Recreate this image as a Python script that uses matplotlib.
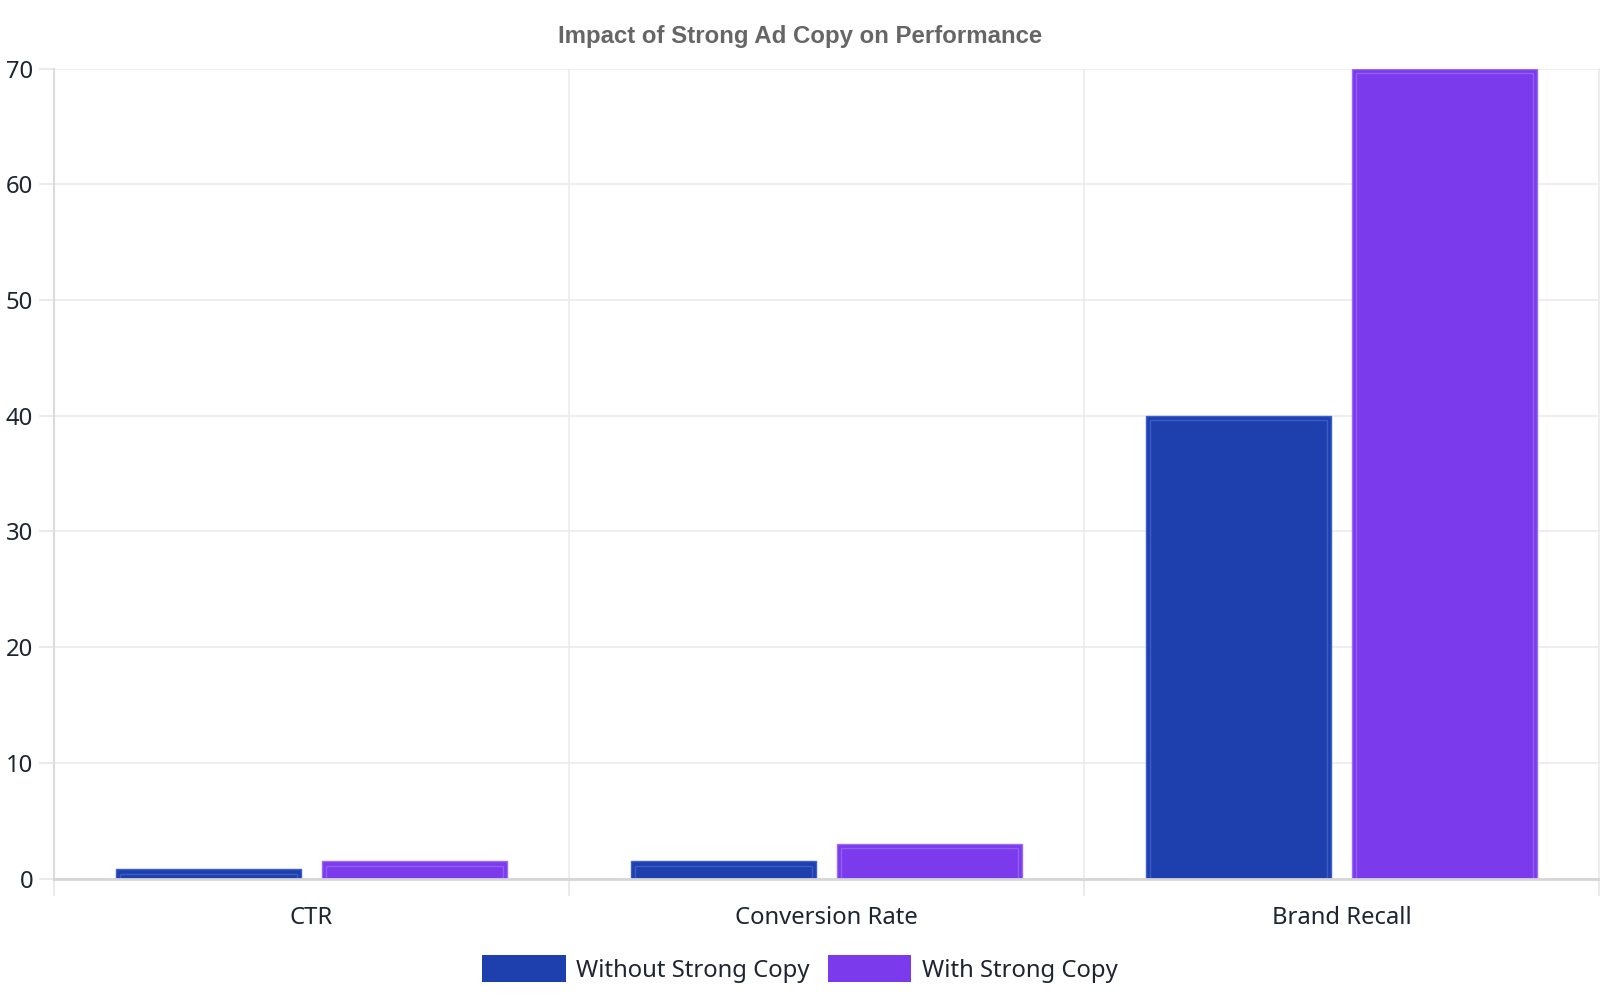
import matplotlib
matplotlib.use("Agg")
import matplotlib.pyplot as plt
from matplotlib.patches import Rectangle, Patch
import numpy as np

categories = ["CTR", "Conversion Rate", "Brand Recall"]
without_copy = [0.8, 1.5, 40]
with_copy = [1.5, 3.0, 70]
series_names = ["Without Strong Copy", "With Strong Copy"]
y_ticks = [0, 10, 20, 30, 40, 50, 60, 70]
title = "Impact of Strong Ad Copy on Performance"

fill_colors = ["#1e40af", "#7c3aed"]
edge_colors = ["#3b5fd0", "#9a6cf5"]
inner_colors = ["#3d5cbf", "#9060f2"]

fig = plt.figure(figsize=(16, 10), dpi=100)
ax = fig.add_axes([54 / 1600, 1 - 878.7 / 1000, 1545 / 1600, 810.2 / 1000])

x = np.arange(len(categories)) + 0.5
width = 0.36
offset = 0.2
xpp = 3 / 1545.0   # data per pixel x
ypp = 70 / 810.2   # data per pixel y

for i, vals in enumerate([without_copy, with_copy]):
    pos = x + (-offset if i == 0 else offset)
    ax.bar(pos, vals, width=width, color=fill_colors[i], edgecolor=edge_colors[i],
           linewidth=1.0, zorder=3)
    for p, v in zip(pos, vals):
        inset_x = 4.5 * xpp
        inset_y = 4.5 * ypp
        h = v - inset_y
        if h > 0:
            ax.add_patch(Rectangle((p - width / 2 + inset_x, 0), width - 2 * inset_x, h,
                                   fill=False, edgecolor=inner_colors[i], linewidth=1.0,
                                   zorder=4))

ax.set_xlim(0, 3)
ax.set_ylim(0, 70)

tick_fs = 17.2
ax.set_xticks([0, 1, 2, 3])
ax.set_xticklabels([])
ax.set_xticks(x, minor=True)
ax.set_xticklabels(categories, minor=True, fontsize=tick_fs, color="#1f2433",
                   fontfamily="Noto Sans")
ax.tick_params(axis="x", which="major", length=12, color="#e6e6e6", width=1.2)
ax.tick_params(axis="x", which="minor", length=0, pad=19.5)

ax.set_yticks(y_ticks)
ax.set_yticklabels([str(t) for t in y_ticks], fontsize=tick_fs, color="#1f2433",
                   fontfamily="Noto Sans")
ax.tick_params(axis="y", length=11, color="#e6e6e6", width=1.2, pad=4)

ax.grid(True, which="major", color="#ebebeb", linewidth=1.2, zorder=0)
ax.set_axisbelow(True)
ax.spines["top"].set_visible(False)
ax.spines["right"].set_color("#ebebeb")
ax.spines["right"].set_linewidth(1.2)
ax.spines["left"].set_color("#dcdcdc")
ax.spines["left"].set_linewidth(1.5)
ax.spines["bottom"].set_color("#d6d6d6")
ax.spines["bottom"].set_linewidth(2.0)
ax.spines["bottom"].set_zorder(5)

fig.text(0.5, 1 - 37 / 1000, title, ha="center", va="center", fontsize=17.3,
         fontweight="bold", color="#666666", fontfamily="Liberation Sans")

handles = [Patch(facecolor=fill_colors[0], edgecolor="none"),
           Patch(facecolor=fill_colors[1], edgecolor="none")]
fig.legend(handles, series_names, loc="center", bbox_to_anchor=(0.5, 1 - 969 / 1000),
           ncol=2, frameon=False, prop={"family": "Noto Sans", "size": 17.2},
           handlelength=3.5, handleheight=1.38, handletextpad=0.45, columnspacing=0.75,
           labelcolor="#1f2433")

fig.savefig("out.png", dpi=100, facecolor="white")
